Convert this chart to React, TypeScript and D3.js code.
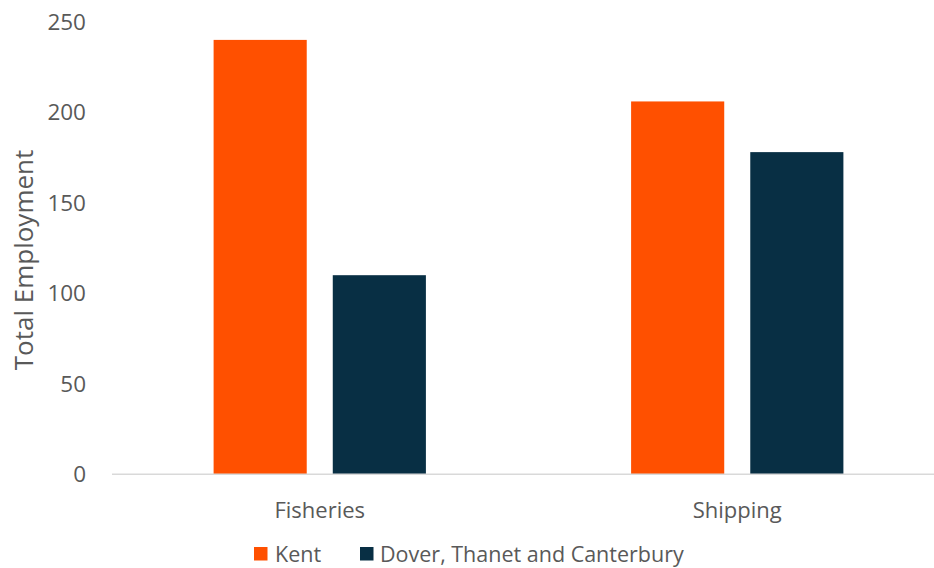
import React from "react";
import * as d3 from "d3";

const categories = ["Fisheries", "Shipping"];
const seriesNames = ["Kent", "Dover, Thanet and Canterbury"];
const kentValues = [240, 206];
const dtcValues = [110, 178];
const yTicks = [0, 50, 100, 150, 200, 250];
const colors = ["#FF5000", "#082F44"];

const W = 934;
const H = 568;
const FONT = "'Open Sans', 'Noto Sans', sans-serif";
const TEXT = "#595959";

export default function App() {
  const y = d3.scaleLinear().domain([0, 250]).range([474.3, 21.8]);
  const x0 = d3.scaleBand<string>().domain(categories).range([111, 946]);
  const x1 = d3
    .scaleBand<string>()
    .domain(seriesNames)
    .range([0, x0.bandwidth()])
    .paddingInner(0.2185)
    .paddingOuter(0.861);
  const series = [kentValues, dtcValues];

  return (
    <svg
      width={W}
      height={H}
      style={{ position: "absolute", left: 0, top: 0, background: "#fff" }}
      fontFamily={FONT}
    >
      {yTicks.map((t) => (
        <text
          key={t}
          x={86}
          y={y(t)}
          dy="0.36em"
          textAnchor="end"
          fontSize={22.5}
          fill={TEXT}
        >
          {t}
        </text>
      ))}
      <text
        transform={`translate(33,260) rotate(-90)`}
        textAnchor="middle"
        fontSize={26}
        fill={TEXT}
      >
        Total Employment
      </text>
      {categories.map((c, ci) =>
        seriesNames.map((s, si) => {
          const v = series[si][ci];
          return (
            <rect
              key={c + s}
              x={(x0(c) as number) + (x1(s) as number)}
              y={y(v)}
              width={x1.bandwidth()}
              height={y(0) - y(v)}
              fill={colors[si]}
            />
          );
        })
      )}
      <line x1={112} x2={W} y1={y(0)} y2={y(0)} stroke="#D9D9D9" strokeWidth={1.5} />
      {categories.map((c) => (
        <text
          key={c}
          x={(x0(c) as number) + x0.bandwidth() / 2}
          y={518}
          textAnchor="middle"
          fontSize={22}
          fill={TEXT}
        >
          {c}
        </text>
      ))}
      <g>
        <rect x={254} y={547} width={13.5} height={13.5} fill={colors[0]} />
        <text x={275} y={562} fontSize={21.5} fill={TEXT}>
          {seriesNames[0]}
        </text>
        <rect x={360} y={547} width={13.5} height={13.5} fill={colors[1]} />
        <text x={380} y={562} fontSize={21.5} fill={TEXT}>
          {seriesNames[1]}
        </text>
      </g>
    </svg>
  );
}
